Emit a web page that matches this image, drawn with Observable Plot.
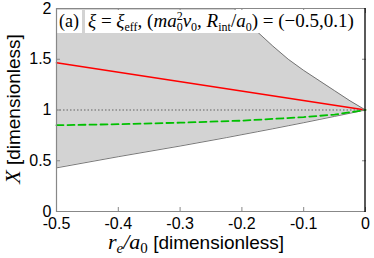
<!DOCTYPE html>
<html><head><meta charset="utf-8">
<script src="https://cdn.jsdelivr.net/npm/d3@7"></script>
<script src="https://cdn.jsdelivr.net/npm/@observablehq/plot@0.6"></script>
<style>body{margin:0;background:#fff}</style>
</head><body><div id="chart"></div>
<script>
// band boundaries (X range allowed), sampled at common r_e/a_0 values
const bandX  = [-0.5, -0.4, -0.3, -0.25, -0.225, -0.2, -0.175, -0.15, -0.125, -0.1, -0.075, -0.05, -0.025, 0];
const bandHi = [4.9, 3.6, 2.65, 2.26, 2.08, 1.92, 1.77, 1.63, 1.5, 1.39, 1.29, 1.19, 1.09, 1.0];
const bandLo = [0.43, 0.54, 0.645, 0.70, 0.728, 0.757, 0.786, 0.815, 0.845, 0.875, 0.906, 0.937, 0.968, 1.0];
// red solid curve
const redX = [-0.5, 0];
const redY = [1.465, 1.0];
// green dashed curve
const greenX = [-0.5, -0.4, -0.3, -0.2, -0.1, -0.05, 0];
const greenY = [0.85, 0.86, 0.875, 0.895, 0.93, 0.955, 1.0];
// reference level
const refLevel = [1];
// ticks
const xTicks = [-0.5, -0.4, -0.3, -0.2, -0.1, 0];
const yTicks = [0, 0.5, 1, 1.5, 2];

const band = bandX.map((x, i) => ({x, hi: bandHi[i], lo: bandLo[i]}));
const red = redX.map((x, i) => ({x, y: redY[i]}));
const green = greenX.map((x, i) => ({x, y: greenY[i]}));

const chart = Plot.plot({
  width: 374, height: 258,
  marginLeft: 56, marginRight: 9, marginTop: 8, marginBottom: 47,
  style: {fontFamily: "'Liberation Sans', Arial, sans-serif", fontSize: "16px", color: "black", background: "white"},
  x: {domain: [-0.5, 0]},
  y: {domain: [0, 2]},
  marks: [
    Plot.areaY(band, {x: "x", y1: "lo", y2: "hi", fill: "#d3d3d3", clip: true}),
    Plot.line(band, {x: "x", y: "hi", stroke: "#555", strokeWidth: 0.8, clip: true}),
    Plot.line(band, {x: "x", y: "lo", stroke: "#555", strokeWidth: 0.8, clip: true}),
    Plot.ruleY(refLevel, {stroke: "#888", strokeDasharray: "1.5,2", strokeWidth: 1.3}),
    Plot.line(red, {x: "x", y: "y", stroke: "#ff0000", strokeWidth: 1.6}),
    Plot.line(green, {x: "x", y: "y", stroke: "#00c000", strokeWidth: 1.8, strokeDasharray: "7,4"}),
    Plot.axisX(xTicks, {tickSize: 0, tickPadding: 6, fontSize: 16, label: null,
      tickFormat: d => d === 0 ? "0" : d.toFixed(1)}),
    Plot.axisX(xTicks, {tickSize: 4, dy: -4, fill: "none", stroke: "#888", label: null}),
    Plot.axisX(xTicks, {anchor: "top", tickSize: 4, dy: 4, fill: "none", stroke: "#888", label: null}),
    Plot.axisY(yTicks, {tickSize: 0, tickPadding: 5, fontSize: 16, label: null, tickFormat: d => String(d)}),
    Plot.axisY(yTicks, {tickSize: 4, dx: 4, fill: "none", stroke: "#888", label: null}),
    Plot.axisY(yTicks, {anchor: "right", tickSize: 4, dx: -4, fill: "none", stroke: "#888", label: null})
  ]
});
document.getElementById("chart").appendChild(chart);

const svg = d3.select(chart);
const serif = "'Liberation Serif', 'Times New Roman', serif";
const g = svg.append("g").style("white-space", "pre").attr("text-anchor", "start");

// panel label boxes
g.append("rect").attr("x", 57).attr("y", 10).attr("width", 25).attr("height", 23).attr("fill", "white");
g.append("rect").attr("x", 85).attr("y", 10).attr("width", 278).attr("height", 23).attr("fill", "white");
g.append("text").attr("x", 59).attr("y", 27).attr("text-anchor", "start")
  .attr("font-family", serif).attr("font-size", 18).text("(a)");

function addParts(textSel, parts) {
  for (const p of parts) {
    const t = textSel.append("tspan").text(p.t);
    if (p.i) t.attr("font-style", "italic");
    if (p.fs) t.attr("font-size", p.fs);
    if (p.dy) t.attr("dy", p.dy);
    if (p.dx) t.attr("dx", p.dx);
    if (p.ff) t.attr("font-family", p.ff);
  }
}
const main = g.append("text").attr("x", 88).attr("y", 27).attr("text-anchor", "start")
  .attr("font-family", serif).attr("font-size", 19);
addParts(main, [
  {t: "ξ", i: 1}, {t: " = "}, {t: "ξ", i: 1}, {t: "eff", fs: 12, dy: 4},
  {t: ", (", dy: -4}, {t: "ma", i: 1}, {t: "0", fs: 12, dy: 4}, {t: "2", fs: 12, dx: -6, dy: -11},
  {t: "ν", i: 1, dy: 7}, {t: "0", fs: 12, dy: 4}, {t: ", ", dy: -4}, {t: "R", i: 1},
  {t: "int", fs: 12, dy: 4}, {t: "/", dy: -4}, {t: "a", i: 1}, {t: "0", fs: 12, dy: 4},
  {t: ") = (−0.5,0.1)", dy: -4}
]);

// frame drawn on top: grey left/bottom/top, black right
const fr = svg.append("g").attr("fill", "none");
fr.append("path").attr("d", "M365,8.5H56.5V211.5H365").attr("stroke", "#888").attr("stroke-width", 1.2);
fr.append("path").attr("d", "M365,8V212").attr("stroke", "black").attr("stroke-width", 1.3);

// x axis label
const xl = g.append("text").attr("x", 108).attr("y", 249).attr("text-anchor", "start").attr("font-size", 19);
addParts(xl, [
  {t: "r", i: 1, ff: serif, fs: 22}, {t: "e", i: 1, ff: serif, fs: 15, dy: 4},
  {t: "/", i: 1, ff: serif, fs: 22, dy: -4}, {t: "a", i: 1, ff: serif, fs: 22},
  {t: "0", ff: serif, fs: 15, dy: 4}, {t: " [dimensionless]", dy: -4}
]);

// y axis label
const yl = g.append("text").attr("transform", "translate(20,109) rotate(-90)")
  .attr("text-anchor", "middle").attr("font-size", 19);
addParts(yl, [{t: "X", i: 1, ff: serif, fs: 22}, {t: " [dimensionless]"}]);
</script>
</body></html>
